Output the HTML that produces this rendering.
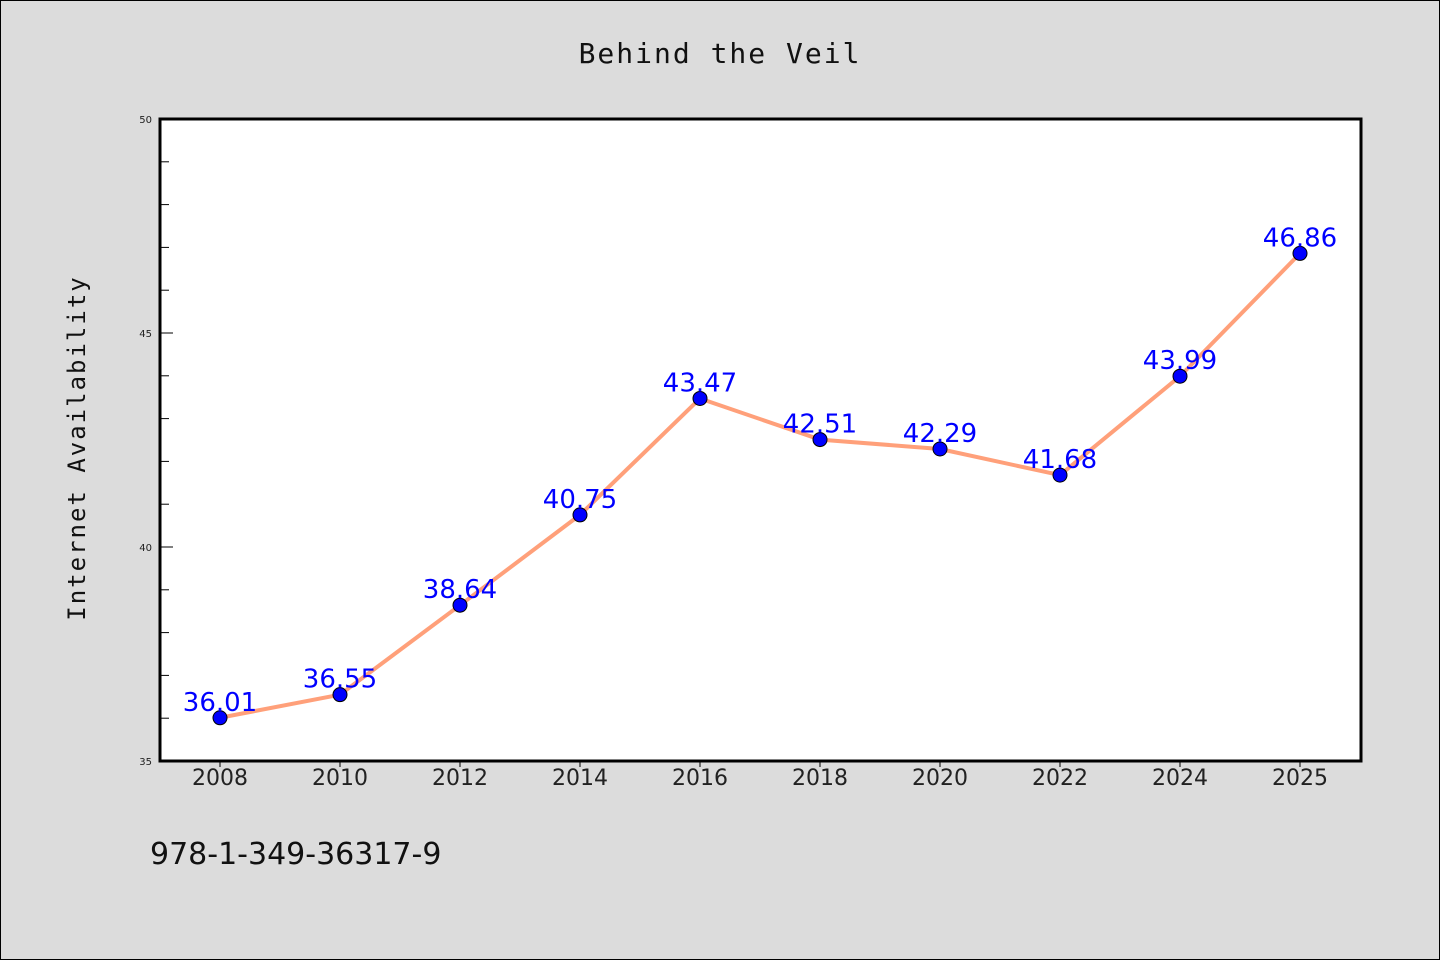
<!DOCTYPE html>
<html><head><meta charset="utf-8"><style>
body{margin:0;background:#dcdcdc;}
svg{display:block;}
</style></head><body>
<svg width="1440" height="960" xmlns="http://www.w3.org/2000/svg">
<rect x="0.5" y="0.5" width="1439" height="959" fill="#dcdcdc" stroke="#000" stroke-width="1"/>
<text x="720" y="63" text-anchor="middle" font-family="'WenQuanYi Zen Hei','DejaVu Sans Mono',monospace" font-size="28" fill="#111" letter-spacing="2">Behind the Veil</text>
<rect x="160" y="119" width="1201" height="642" fill="#fff"/>
<g id="ticks"></g>
<path id="line" fill="none" stroke="#ffa07a" stroke-width="4" stroke-linejoin="round"/>
<g id="points"></g>
<rect x="160" y="119" width="1201" height="642" fill="none" stroke="#000" stroke-width="3"/>
<text transform="translate(85,448) rotate(-90)" text-anchor="middle" font-family="'WenQuanYi Zen Hei','DejaVu Sans Mono',monospace" font-size="24" fill="#111" letter-spacing="2">Internet Availability</text>
<text x="150" y="864" font-family="'WenQuanYi Zen Hei','DejaVu Sans',sans-serif" font-size="30" fill="#111">978-1-349-36317-9</text>
</svg>
<script>
const categories=["2008","2010","2012","2014","2016","2018","2020","2022","2024","2025"];
const values=[36.01,36.55,38.64,40.75,43.47,42.51,42.29,41.68,43.99,46.86];
const yTicks=[35,40,45,50];
const yMin=35,yMax=50;
const NS="http://www.w3.org/2000/svg";
const X=i=>220+i*120;
const Y=v=>761-(v-yMin)/(yMax-yMin)*642;
const tk=document.getElementById('ticks');
function mk(tag,attrs,parent){const e=document.createElementNS(NS,tag);for(const k in attrs)e.setAttribute(k,attrs[k]);parent.appendChild(e);return e;}
for(let v=yMin;v<=yMax;v++){
  const major=yTicks.includes(v);
  const t=mk('line',{x1:160,x2:major?173:169,y1:Y(v),y2:Y(v),stroke:'#000','stroke-width':1},tk);
  
  
}
yTicks.forEach(v=>{
  const t=mk('text',{x:152,y:Y(v)+4,'text-anchor':'end','font-family':'DejaVu Sans,sans-serif','font-size':10,fill:'#222'},tk);
  t.textContent=v;
  
  
});
categories.forEach((c,i)=>{
  const l=mk('line',{x1:X(i),x2:X(i),y1:761,y2:767,stroke:'#000','stroke-width':1},tk);
  
  
  const t=mk('text',{x:X(i),y:785,'text-anchor':'middle','font-family':'DejaVu Sans,sans-serif','font-size':22,fill:'#222'},tk);
  t.textContent=c;
  
  
});
document.getElementById('line').setAttribute('d',values.map((v,i)=>(i?'L':'M')+X(i)+','+Y(v)).join(' '));
const pts=document.getElementById('points');
values.forEach((v,i)=>{
  const c=mk('circle',{cx:X(i),cy:Y(v),r:7,fill:'#0000ff',stroke:'#000','stroke-width':1},pts);
  
  
  const t=mk('text',{x:X(i),y:Y(v)-7,'text-anchor':'middle','font-family':'DejaVu Sans,sans-serif','font-size':26,fill:'#0000ff'},pts);
  t.textContent=v.toFixed(2);
  
  
});
</script>
</body></html>
